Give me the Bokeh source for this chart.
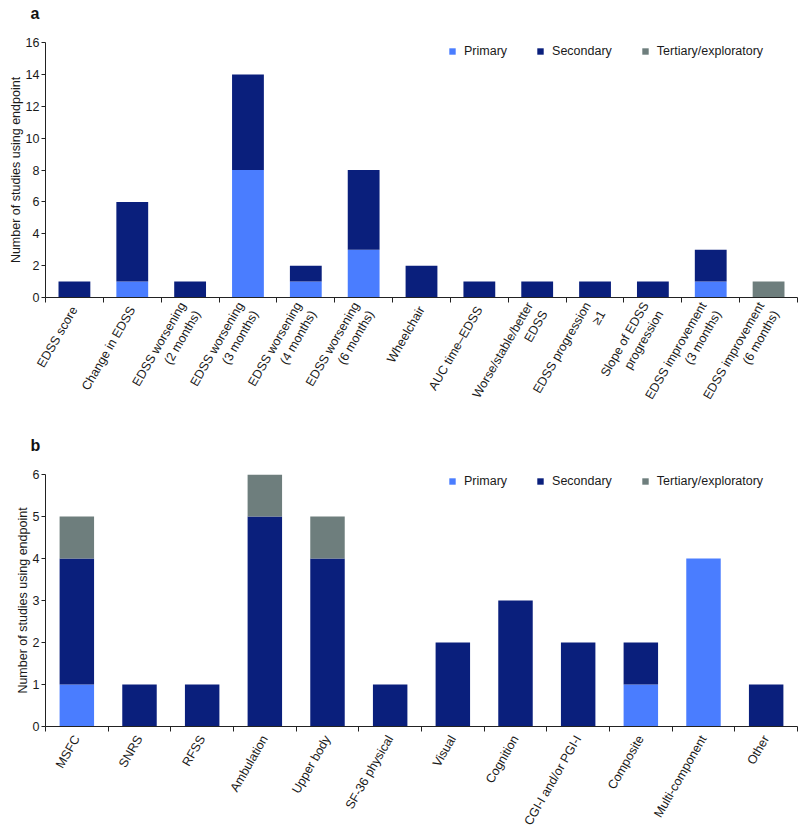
import math
from bokeh.plotting import figure
from bokeh.models import (Range1d, FixedTicker, Legend, LegendItem, Title,
                          ColumnDataSource)
from bokeh.layouts import column
from bokeh.embed import file_html
from bokeh.resources import INLINE

# ---------------- data ----------------
series = ["Primary", "Secondary", "Tertiary/exploratory"]
colors = ["#4A7DFF", "#0A1F7C", "#6E7E7D"]

a_categories = [
    "EDSS score",
    "Change in EDSS",
    "EDSS worsening\n(2 months)",
    "EDSS worsening\n(3 months)",
    "EDSS worsening\n(4 months)",
    "EDSS worsening\n(6 months)",
    "Wheelchair",
    "AUC time\u2013EDSS",
    "Worse/stable/better\nEDSS",
    "EDSS progression\n\u22651",
    "Slope of EDSS\nprogression",
    "EDSS improvement\n(3 months)",
    "EDSS improvement\n(6 months)",
]
a_primary = [0, 1, 0, 8, 1, 3, 0, 0, 0, 0, 0, 1, 0]
a_secondary = [1, 5, 1, 6, 1, 5, 2, 1, 1, 1, 1, 2, 0]
a_tertiary = [0, 0, 0, 0, 0, 0, 0, 0, 0, 0, 0, 0, 1]
a_yticks = [0, 2, 4, 6, 8, 10, 12, 14, 16]

b_categories = [
    "MSFC", "SNRS", "RFSS", "Ambulation", "Upper body", "SF-36 physical",
    "Visual", "Cognition", "CGI-I and/or PGI-I", "Composite",
    "Multi-component", "Other",
]
b_primary = [1, 0, 0, 0, 0, 0, 0, 0, 0, 1, 4, 0]
b_secondary = [3, 1, 1, 5, 4, 1, 2, 3, 2, 1, 0, 1]
b_tertiary = [1, 0, 0, 1, 1, 0, 0, 0, 0, 0, 0, 0]
b_yticks = [0, 1, 2, 3, 4, 5, 6]

FONT = "Liberation Sans"
TXT = "#1a1a1a"
W = 798


def make_panel(letter, cats, prim, sec, ter, yticks, height, btop, bbottom):
    n = len(cats)
    xs = [i + 0.5 for i in range(n)]
    ymax = yticks[-1]
    src = ColumnDataSource(dict(x=xs, p=prim, s=sec, t=ter))
    p = figure(width=W, height=height, x_range=Range1d(0, n),
               y_range=Range1d(0, ymax), output_backend="svg",
               toolbar_location=None, min_border_left=45, min_border_right=1,
               min_border_top=btop, min_border_bottom=bbottom)
    rs = p.vbar_stack(["p", "s", "t"], x="x", width=0.55, color=colors,
                      source=src, line_color=None)
    p.xgrid.visible = False
    p.ygrid.visible = False
    p.outline_line_color = None
    p.background_fill_color = "white"

    # panel letter: the trailing empty line lifts the letter well above the frame
    p.title = Title(text=letter + "\n", align="left", offset=-15,
                    standoff=3, vertical_align="top",
                    text_font=FONT, text_font_size="16px",
                    text_font_style="bold", text_color="#111111")

    xa = p.xaxis[0]
    xa.ticker = FixedTicker(ticks=xs, minor_ticks=list(range(n + 1)))
    xa.major_label_overrides = {x: c for x, c in zip(xs, cats)}
    xa.major_tick_out = 0
    xa.major_tick_in = 0
    xa.minor_tick_out = 5
    xa.minor_tick_in = 0
    xa.major_label_orientation = math.pi / 3
    xa.major_label_standoff = 5
    xa.major_label_text_font = FONT
    xa.major_label_text_font_size = "12.5px"
    xa.major_label_text_color = TXT
    xa.axis_line_color = "#222222"
    xa.minor_tick_line_color = "#222222"

    ya = p.yaxis[0]
    ya.ticker = FixedTicker(ticks=yticks)
    ya.major_tick_out = 4
    ya.major_tick_in = 0
    ya.minor_tick_out = 0
    ya.minor_tick_in = 0
    ya.major_label_standoff = 2
    ya.major_label_text_font = FONT
    ya.major_label_text_font_size = "12.5px"
    ya.major_label_text_color = TXT
    ya.axis_label = "Number of studies using endpoint"
    ya.axis_label_text_font = FONT
    ya.axis_label_text_font_size = "12.5px"
    ya.axis_label_text_font_style = "normal"
    ya.axis_label_text_line_height = 1.0
    ya.axis_label_text_color = TXT
    ya.axis_label_standoff = 0
    ya.axis_line_color = "#222222"
    ya.major_tick_line_color = "#222222"

    frame_h = height - btop - bbottom
    legend = Legend(
        items=[LegendItem(label=s, renderers=[r]) for s, r in zip(series, rs)],
        orientation="horizontal", location=(403, frame_h - 16),
        glyph_width=8, glyph_height=8, label_height=14, label_standoff=8,
        spacing=29, padding=0, margin=0, border_line_color=None,
        background_fill_alpha=0, label_text_font=FONT,
        label_text_font_size="12.5px", label_text_color=TXT,
    )
    p.add_layout(legend)
    return p


pa = make_panel("a", a_categories, a_primary, a_secondary, a_tertiary,
                a_yticks, 420, 42, 123)
pb = make_panel("b", b_categories, b_primary, b_secondary, b_tertiary,
                b_yticks, 414, 54, 106)

layout = column(pa, pb, spacing=0)
open("out.html", "w").write(file_html(layout, INLINE))
